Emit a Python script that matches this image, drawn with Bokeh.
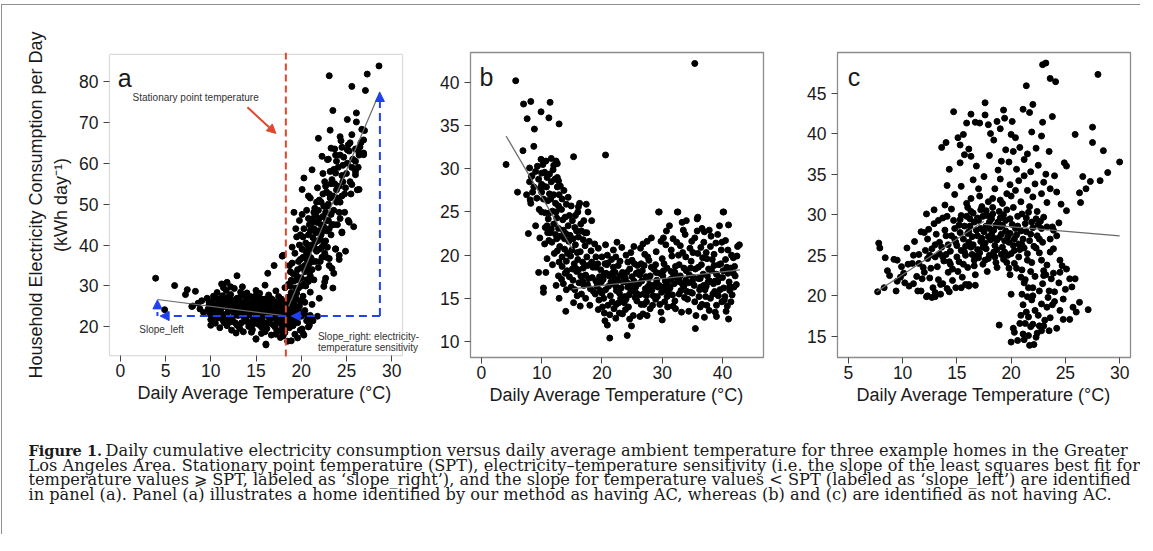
from bokeh.plotting import figure
from bokeh.layouts import column, row
from bokeh.models import Span, Arrow, NormalHead, Label, LinearAxis, FixedTicker, Range1d, BoxAnnotation
from bokeh.embed import file_html
from bokeh.resources import INLINE

SANS = "Liberation Sans"
SERIF = "DejaVu Serif"

# ---------------- data ----------------
pts_a = [
    (3.9,31.9),(4.9,24.2),(6.0,30.1),(7.4,29.1),(7.2,27.9),(8.3,28.7),(8.0,25.1),
    (7.9,25.0),(8.6,25.8),(8.8,24.4),(9.2,23.5),(9.0,26.4),
    (9.6,27.0),(9.8,25.3),(9.9,23.2),(10.0,21.8),(10.1,26.2),(9.7,24.3),(10.2,22.6),(10.3,27.5),(10.4,24.8),(10.5,20.9),(10.6,23.5),
    (10.7,28.4),(10.8,25.6),(10.9,22.2),(11.0,26.8),(11.0,19.8),(11.1,24.1),(11.2,30.5),(11.3,27.6),(11.4,21.4),(11.5,25.0),(11.6,23.0),(11.7,28.9),(11.8,20.3),(11.9,26.3),(12.0,24.4),
    (12.1,22.1),(12.2,27.9),(12.3,19.2),(12.4,25.5),(12.5,23.7),(12.6,29.4),(12.7,21.0),(12.8,26.6),(12.9,24.9),(12.9,32.5),(13.0,22.8),(13.1,20.2),(13.2,27.2),(13.3,25.2),(13.4,23.4),(13.5,29.8),(13.6,18.8),(13.7,26.0),(13.8,21.8),(13.9,24.3),(14.0,28.3),
    (14.1,22.9),(14.2,20.1),(14.3,25.7),(14.4,27.4),(14.5,23.9),(14.6,19.3),(14.7,26.4),(14.8,21.5),(14.9,24.6),(15.0,17.1),(15.0,28.9),(15.1,22.4),(15.2,25.3),(15.3,20.6),(15.4,27.0),(15.5,23.6),(15.6,18.4),(15.7,26.2),(15.8,21.2),(15.9,24.0),
    (16.0,30.2),(16.1,15.8),(16.1,22.9),(16.2,19.6),(16.3,25.8),(16.4,27.8),(16.5,21.7),(16.6,23.8),(16.7,18.0),(16.8,26.7),(16.9,20.5),(17.0,24.6),(17.0,35.0),(17.1,22.3),(17.2,28.8),(17.3,19.1),(17.4,25.4),(17.5,21.0),(17.6,23.3),(17.7,17.4),(17.8,26.8),(17.9,20.0),(17.9,37.3),
    (18.0,24.2),(18.1,22.0),(18.2,18.6),(18.2,29.6),(18.3,25.9),(18.4,21.3),(18.5,23.4),(18.5,16.5),(18.6,27.3),(18.7,19.8),(18.8,24.6),(18.9,16.6),(18.9,31.4),(19.0,22.4),(19.1,20.3),(19.2,26.0),(19.3,18.2),(19.4,23.6),(19.5,28.3),(19.6,21.0),(19.8,25.1),(19.9,19.2),(20.0,22.6),(20.2,18.4),(20.4,24.0),(20.6,21.5),(20.8,20.0),(21.0,22.8),(21.3,21.5),
    (10.3,23.9),(10.9,24.7),(11.3,22.9),(11.9,23.6),(12.4,21.6),(12.6,24.2),(13.1,24.0),(13.6,22.6),(13.9,26.9),(14.2,24.1),(14.7,22.2),(15.1,26.5),(15.4,24.8),(15.8,22.7),(16.2,24.4),(16.6,26.1),(16.9,23.1),(17.3,24.0),(17.6,25.8),(17.9,22.6),(18.2,23.8),(18.4,26.4),(18.7,22.5),(18.9,25.2),(19.1,23.3),
    (11.6,25.9),(12.1,26.0),(12.9,27.0),(13.4,21.0),(14.4,21.0),(15.0,23.0),(15.6,20.0),(16.4,21.0),(17.1,20.0),(17.8,19.0),(18.5,20.5),(16.0,26.8),(14.9,27.5),(13.3,28.5),(12.2,29.8),(11.4,29.6),(11.3,30.3),(11.8,30.9),(16.3,33.1),(18.0,37.5),
    (20.1,19.5),(20.3,18.0),(19.6,17.3),(20.9,20.4),(21.8,22.6),(21.2,21.8),(19.2,21.8),(16.1,15.6),(15.0,17.0),
    (9.8,26.1),(10.1,24.6),(10.4,22.4),(10.7,26.9),(10.9,23.1),(11.2,25.4),(11.4,27.2),(11.6,22.2),(11.9,24.9),(12.1,21.2),(12.3,26.6),(12.5,24.9),(12.7,22.9),(12.9,20.4),(13.1,26.1),(13.3,23.0),(13.5,24.7),(13.7,27.9),(13.9,22.0),(14.1,25.2),(14.3,23.4),(14.5,26.0),(14.7,20.7),(14.9,23.3),(15.1,24.5),(15.3,21.8),(15.5,26.9),(15.7,22.9),(15.9,25.6),(16.1,20.7),(16.3,23.7),(16.5,25.1),(16.7,22.1),(16.9,24.3),(17.1,26.1),(17.3,21.7),(17.5,24.0),(17.7,22.4),(17.9,25.0),(18.1,20.9),(18.3,24.5),(18.5,22.1),(18.7,26.0),(18.9,23.7),(19.1,21.5),(19.3,25.0),(19.5,22.3),(19.7,24.0),
    (10.5,25.4),(11.0,23.0),(11.5,21.0),(12.0,25.8),(12.6,23.0),(13.0,25.5),(13.6,23.8),(14.0,21.3),(14.6,24.9),(15.2,22.9),(15.8,24.3),(16.4,22.6),(17.0,23.4),(17.6,21.3),(18.2,25.2),(18.8,21.2),(13.2,19.6),(14.5,18.7),(16.0,18.8),(17.2,18.2),(18.0,17.8),(12.0,27.4),(14.8,25.9),(16.6,27.0),(19.0,27.6),(20.2,23.3),(20.7,22.6),(19.9,26.4),(10.0,20.4),(12.8,18.5),(15.4,28.2),(17.5,27.4),
    (18.6,30.4),(18.8,33.5),(18.9,28.4),(19.0,35.6),(19.2,31.2),(19.3,38.0),(19.4,27.0),(19.5,42.0),(19.6,34.0),(19.7,29.5),(19.8,46.0),(19.9,36.5),
    (20.0,32.0),(20.1,39.0),(20.2,27.5),(20.3,44.0),(20.4,35.0),(20.5,30.0),(20.6,48.5),(20.7,37.8),(20.8,42.5),(20.9,33.5),(21.0,28.5),(21.0,51.5),(21.1,40.0),(21.2,45.5),(21.3,36.0),(21.4,31.5),(21.5,49.0),(21.6,43.0),(21.7,38.5),(21.8,54.0),(21.9,34.5),(22.0,46.5),(22.0,27.0),(21.2,25.5),(20.4,26.0),
    (22.1,41.5),(22.2,50.5),(22.3,37.0),(22.4,57.5),(22.5,44.5),(22.6,31.0),(22.7,48.0),(22.8,53.0),(22.9,39.5),(23.0,61.0),(23.0,46.0),(23.1,35.0),(23.2,51.5),(23.3,42.5),(23.4,56.0),(23.5,29.5),(23.6,48.5),(23.7,63.5),(23.8,39.0),(23.9,53.5),
    (24.0,45.0),(24.1,59.0),(24.2,36.5),(24.3,50.5),(24.4,65.5),(24.5,43.0),(24.6,55.5),(24.7,61.5),(24.8,48.0),(24.9,38.5),(25.0,57.5),(25.2,46.0),(25.3,63.0),(25.5,52.5),(25.6,67.0),(25.8,44.5),(26.0,58.0),(26.2,53.5),(26.4,62.0),(26.6,65.0),(26.9,62.5),(27.0,68.0),
    (20.5,40.5),(20.9,45.0),(21.3,41.8),(21.6,47.5),(21.9,43.5),(22.2,45.0),(22.5,40.5),(22.8,43.5),(21.1,36.8),(20.7,34.5),(20.2,37.0),(21.7,50.5),(22.4,52.5),(22.9,49.5),(23.3,55.0),(23.6,58.5),(23.9,60.5),(24.3,62.0),(22.0,39.0),(21.4,44.0),(22.6,38.0),(23.1,44.0),(20.0,30.0),(19.5,32.5),(20.6,31.5),
    (18.8,30.0),(19.1,33.0),(19.4,29.5),(19.7,36.0),(20.0,34.5),(20.3,30.5),(20.6,36.5),(20.9,39.0),(21.2,34.0),(21.5,40.5),(21.8,41.0),(22.1,36.0),(22.4,43.5),(22.7,41.0),(23.0,50.0),(23.3,47.5),(23.6,45.0),(23.9,50.5),(24.2,48.0),(24.5,57.0),(24.8,52.5),(25.1,60.0),(25.4,55.5),(25.7,61.0),(26.0,63.5),(26.3,59.0),
    (20.2,42.0),(20.8,46.5),(21.4,48.0),(22.0,51.0),(22.6,55.5),(23.2,58.0),(21.0,32.5),(21.6,36.0),(22.3,39.5),(21.0,43.5),(20.5,38.5),(22.8,46.0),(19.8,40.0),(23.5,52.0),
    (19.0,39.5),(19.4,44.0),(19.7,31.5),(20.1,47.5),(20.4,33.5),(20.7,40.0),(21.0,37.0),(21.3,46.5),(21.6,39.0),(21.9,48.5),(22.2,42.5),(22.5,49.5),(22.8,37.0),(23.1,52.5),(23.4,45.0),(23.7,55.0),(24.0,51.5),(24.3,46.5),(24.6,59.5),(24.9,54.0),(25.2,64.5),(25.6,59.0),(26.0,60.5),(26.5,64.0),(20.9,35.5),(21.8,45.5),(22.4,47.0),(23.8,62.0),(18.7,35.0),(19.9,42.5),
    (23.1,81.4),(25.6,78.8),(27.3,81.8),(28.6,83.8),(27.1,77.8),(23.5,72.9),(25.1,70.7),(26.1,72.3),(26.1,70.1),(23.2,68.1),(26.7,68.3),(24.3,66.5),(21.9,66.1),(26.9,65.7),(25.4,65.0),(23.3,63.7),(24.5,63.9),(25.1,63.3),(26.4,62.5),(26.9,62.1),(22.3,61.7),(22.9,60.9),(21.2,58.4),(26.0,57.2),(23.8,57.6),(25.6,54.8),(26.4,53.6),(20.3,56.4),(24.5,52.0),(22.7,54.4),(24.2,54.4),(20.1,53.6),(20.8,52.0),(19.2,48.0),(25.3,45.6),(24.5,43.2),(23.8,39.1),(24.2,37.5),(23.1,36.7),(23.4,34.3),(22.7,31.9),(23.6,33.1),(22.5,29.9),(20.8,31.1),
]
temp_a = [p[0] for p in pts_a]
kwh_a = [p[1] for p in pts_a]

pts_b = [
    (5.7,40.2),(7.0,37.5),(8.2,37.8),(11.4,37.7),(7.6,35.8),(9.9,36.6),(11.2,35.9),(12.9,35.2),(8.8,34.6),(6.9,32.1),(8.7,32.6),(4.1,30.5),(15.3,31.4),(20.6,31.6),(6.0,27.3),
    (8.0,30.1),(8.4,29.2),(9.9,31.1),(10.2,30.5),(12.4,30.9),(12.6,30.6),(10.0,29.5),(10.5,29.6),(11.3,29.4),(12.6,29.0),(12.8,28.6),(13.1,28.0),(9.5,28.8),(10.0,28.2),(8.3,29.1),(8.7,27.9),(8.0,28.5),(7.5,27.0),(8.2,26.0),(8.1,26.4),
    (10.0,27.3),(10.3,26.5),(11.3,27.1),(11.8,26.9),(12.6,27.9),(13.7,27.5),(13.4,26.5),(14.1,25.9),(14.9,25.7),(16.1,25.6),(17.4,25.9),(17.7,25.0),(16.0,25.0),(12.4,25.0),(11.8,25.1),(11.3,24.9),(10.6,24.9),(10.0,25.0),(9.0,23.4),(7.8,22.5),
    (10.9,23.4),(11.6,23.0),(11.4,22.6),(10.6,23.2),(12.8,23.1),(13.6,22.9),(14.4,23.4),(15.5,23.2),(15.8,22.8),(16.1,22.1),(18.3,24.0),(17.0,24.0),(16.3,26.0),
    (10.5,21.3),(11.2,21.7),(11.7,21.5),(12.5,21.9),(13.0,21.0),(13.8,20.7),(14.5,21.6),(15.0,20.6),(15.6,21.2),(16.4,20.4),(16.9,21.8),(17.5,22.6),(10.9,19.6),(12.1,20.2),(13.4,19.8),(14.1,19.3),(14.8,19.9),(15.4,19.0),(16.0,19.5),(16.8,19.2),(17.5,19.8),(18.2,20.5),(18.8,21.3),(19.4,20.8),(20.0,19.8),
    (9.5,18.0),(10.7,18.0),(10.3,16.2),(10.3,15.7),(12.8,17.6),(13.3,17.2),(14.2,18.2),(14.6,17.5),(13.6,16.7),(12.9,15.0),(14.1,16.0),(15.2,17.1),(15.8,18.1),(16.5,17.6),(15.3,14.5),(16.4,14.1),(17.0,16.5),(17.8,17.3),(18.5,18.6),(19.0,17.0),(14.0,13.5),(15.9,15.3),(17.3,15.0),(18.0,14.2),(18.6,15.8),
    (8.5,27.3),(9.2,26.6),(9.6,25.3),(10.3,28.0),(10.8,27.9),(11.0,26.3),(11.6,28.5),(12.0,27.0),(12.3,26.0),(12.9,27.0),(13.3,25.3),(13.9,24.4),(14.6,24.6),(15.1,24.0),(11.1,24.2),(12.0,23.6),(12.3,22.4),(13.1,22.2),(13.8,21.9),(14.7,22.3),(15.2,21.9),(16.6,22.8),(17.2,21.1),(17.9,21.6),
    (12.6,20.5),(13.4,18.7),(14.3,20.2),(15.6,18.5),(16.2,16.8),(16.9,18.5),(17.6,18.8),(18.4,17.4),(11.8,18.9),(12.4,16.5),(14.9,16.3),(16.6,15.5),(10.9,29.0),(12.0,30.4),(9.0,29.7),(11.6,31.2),
    (9.3,30.3),(10.7,30.9),(11.9,29.9),(12.2,28.8),(9.8,27.8),(11.5,26.5),(12.8,25.7),(13.5,24.1),(14.4,26.7),(15.6,24.6),(16.5,23.6),(17.2,22.6),(15.9,20.3),(14.0,22.5),(12.9,19.2),(13.9,17.9),(15.1,18.4),(16.1,18.3),(17.3,17.7),(11.0,22.6),(9.7,22.0),(12.5,24.3),
    (19.2,16.4),(19.5,14.8),(19.8,18.3),(20.0,15.6),(20.2,17.2),(20.4,13.3),(20.6,16.0),(20.8,18.9),(21.0,14.2),(21.2,17.6),(20.5,12.4),(21.3,10.4),(20.9,11.9),(24.2,10.7),
    (21.4,15.3),(21.6,19.5),(21.8,16.7),(22.0,13.8),(22.2,18.0),(22.4,15.9),(22.6,17.0),(22.8,14.5),(23.0,19.3),(23.2,16.2),(22.5,21.5),(21.9,20.6),(22.3,12.7),(23.4,13.2),(23.6,17.8),
    (23.8,15.2),(24.0,20.0),(24.2,16.8),(24.4,14.0),(24.6,18.4),(24.8,15.8),(25.0,17.5),(25.2,13.0),(25.4,19.0),(25.6,16.3),(25.8,14.7),(24.9,11.8),(25.3,21.0),(26.0,18.0),
    (26.2,15.4),(26.4,20.8),(26.6,17.0),(26.8,13.2),(27.0,18.8),(27.2,16.1),(27.4,14.6),(27.6,19.8),(27.8,15.9),(28.0,17.6),(28.2,22.0),(28.4,14.2),(28.6,18.4),(28.8,16.6),(29.0,20.4),(27.5,21.6),
    (29.2,15.2),(29.4,25.0),(29.6,17.9),(29.8,13.4),(30.0,19.6),(30.2,16.3),(30.4,14.6),(30.6,21.2),(30.8,18.5),(31.0,15.8),(31.2,23.4),(31.4,17.2),(31.6,19.9),(31.8,14.1),(32.0,16.7),(30.0,12.5),(30.7,22.8),
    (32.2,18.7),(32.4,21.5),(32.6,25.0),(32.8,15.5),(33.0,17.6),(33.2,13.4),(33.4,20.3),(33.6,16.4),(33.8,22.4),(34.0,18.2),(34.2,14.9),(34.4,16.8),(34.6,20.8),(34.8,19.3),(35.0,15.6),(33.3,23.8),
    (35.2,17.4),(35.4,22.0),(35.5,11.5),(35.6,13.0),(35.8,24.2),(36.0,18.6),(36.2,16.0),(36.4,20.9),(36.6,14.3),(36.8,17.8),(37.0,22.7),(37.2,15.2),(37.4,19.6),(37.6,16.9),(37.8,13.6),(38.0,21.0),(35.4,42.2),
    (38.2,18.2),(38.4,15.5),(38.6,20.1),(38.8,17.0),(39.0,14.2),(39.2,22.4),(39.4,18.9),(39.6,16.0),(39.8,20.6),(40.0,17.4),(40.1,25.0),(40.3,14.8),(40.5,21.7),(40.7,18.6),(41.0,12.6),(41.2,16.4),(41.5,20.0),(41.8,19.7),(42.1,17.6),(42.5,21.0),(42.8,21.2),(41.0,23.5),(39.0,12.9),(37.0,12.8),
    (19.6,17.5),(20.3,15.0),(21.1,16.4),(21.7,14.6),(22.1,17.3),(22.9,15.6),(23.5,16.9),(24.1,18.0),(24.7,16.6),(25.5,15.1),(26.1,16.7),(26.9,15.5),(27.7,17.3),(28.3,16.0),(29.1,17.1),(29.9,15.7),(30.5,17.0),(31.3,16.2),(32.1,18.0),(32.9,16.9),(33.7,15.1),(34.5,17.7),(35.3,16.5),(36.1,15.2),(36.9,16.5),(37.7,18.4),(38.5,16.7),(39.3,15.3),(40.2,16.2),(40.9,17.9),(41.6,15.4),
    (24.3,19.2),(26.5,19.0),(28.9,18.9),(31.5,20.6),(33.9,19.8),(36.5,18.9),(39.7,19.0),(22.7,18.8),(20.9,20.0),(27.1,20.1),(34.9,21.6),(38.9,21.4),(42.0,18.7),(30.9,14.0),(28.0,13.8),(36.3,14.0),(40.6,13.5),(23.9,13.7),(26.3,12.9),
    (29.5,25.0),(32.5,25.0),(40.2,25.0),(35.9,24.4),(35.8,22.8),(36.6,23.1),(37.8,22.9),
    (18.9,15.5),(19.9,16.9),(20.7,17.9),(21.5,16.9),(22.3,16.4),(23.1,15.0),(23.9,17.3),(24.5,15.4),(25.1,16.0),(25.7,17.9),(26.5,14.3),(27.3,17.5),(27.9,16.6),(28.5,15.3),(29.3,16.3),(30.1,17.6),(30.9,16.6),(31.7,15.4),(32.5,17.3),(33.1,15.9),(33.9,17.1),(34.7,15.7),(35.5,18.4),(36.3,17.3),(37.1,16.0),(37.9,17.0),(38.7,15.8),(39.5,17.4),(40.4,15.2),(41.1,16.9),(41.9,16.3),
    (19.4,13.7),(21.3,13.1),(22.9,13.3),(24.6,12.6),(27.5,13.0),(29.6,14.3),(32.2,13.8),(34.4,13.5),(37.4,14.2),(38.8,13.4),(40.8,14.1),(20.5,19.0),(22.3,19.8),(24.8,20.3),(27.8,19.4),(30.3,19.0),(32.7,20.0),(35.1,20.3),(37.3,20.3),(39.9,21.5),(41.3,18.5),(42.4,19.9),(30.2,22.0),(33.5,22.9),(36.9,21.5),(39.5,23.4),(34.0,24.0),(31.8,21.9),(38.3,19.5),(25.9,18.8),(23.4,18.0),
    (18.3,19.2),(19.0,18.6),(19.7,15.9),(20.4,17.8),(21.0,19.1),(21.7,17.9),(22.4,14.3),(23.0,17.6),(23.7,14.5),(24.3,16.3),(25.0,19.4),(25.7,15.6),(26.3,17.7),(27.0,14.3),(27.6,16.3),(28.2,18.6),(28.9,14.9),(29.5,16.5),(30.2,18.2),(30.8,15.2),(31.5,18.1),(32.1,14.7),(32.8,18.9),(33.4,16.6),(34.1,15.8),(34.7,18.5),(35.4,14.6),(36.0,17.3),(36.7,19.7),(37.3,16.4),(38.0,15.0),(38.6,18.8),(39.2,16.9),(39.9,14.6),(40.5,19.5),(41.2,15.9),(41.8,17.9),(42.3,16.6),
    (19.0,19.8),(20.1,14.0),(21.9,18.6),(22.7,16.0),(24.0,14.9),(25.3,17.0),(26.7,18.2),(27.4,15.3),(29.0,18.0),(30.6,15.9),(31.9,17.6),(33.6,18.5),(35.0,17.0),(36.4,16.3),(37.5,17.6),(39.0,17.8),(40.1,18.2),(41.4,14.6),(20.6,21.2),(23.3,20.9),(26.8,21.3),(29.8,21.6),(33.0,21.1),(35.9,20.2),(38.1,22.2),(40.9,20.6),
    (17.6,16.6),(16.8,17.0),(18.1,16.1),(19.3,19.0),(15.5,16.0),
]
temp_b = [p[0] for p in pts_b]
kwh_b = [p[1] for p in pts_b]

pts_c = [
    (22.9,48.5),(23.2,48.7),(28.0,47.3),(23.6,46.8),(24.1,46.4),(21.4,45.9),(14.7,42.7),(16.3,42.4),(17.6,43.8),(17.6,42.3),(19.3,42.9),(21.1,43.0),(22.0,43.6),(21.7,42.6),(23.8,42.1),
    (15.9,41.3),(16.7,41.4),(17.1,41.3),(17.9,41.1),(18.7,41.5),(19.4,41.9),(20.1,41.5),(22.9,41.4),(27.5,40.8),(25.9,39.9),(15.1,39.5),(15.6,39.9),(22.8,39.7),(20.4,39.5),(18.4,39.2),
    (13.6,38.3),(14.0,38.9),(15.3,38.6),(16.1,38.1),(15.7,37.4),(16.3,37.2),(15.3,36.4),(27.5,38.9),(28.5,37.9),(25.1,36.0),(24.9,36.4),(30.0,36.5),(28.9,35.2),(26.6,34.7),(27.3,34.1),(28.2,34.2),(26.9,33.2),(26.3,32.7),(26.4,31.5),(25.1,30.5),(24.6,31.3),
    (19.5,38.0),(20.2,37.8),(20.8,38.3),(21.5,37.5),(22.3,38.2),(23.5,37.8),(19.8,36.5),(20.5,35.6),(21.2,36.8),(21.8,35.3),(22.5,36.1),(23.2,35.0),(24.0,34.8),(19.0,34.4),(19.9,33.7),(20.7,34.2),(21.5,33.0),(22.2,33.8),(22.8,32.6),(23.6,33.2),
    (18.3,32.0),(19.2,31.4),(20.0,32.3),(20.9,31.6),(21.7,31.0),(22.4,30.4),(23.3,31.5),(24.2,32.8),(18.8,35.5),(17.5,34.7),(17.0,33.2),(16.3,32.0),(14.8,32.5),(13.9,31.2),(12.9,30.6),(12.2,30.1),(14.3,35.6),(18.0,37.3),(16.8,36.0),(22.7,29.2),(23.8,28.5),(24.4,29.0),
    (7.8,26.5),(7.9,25.9),(8.4,24.7),(9.2,24.5),(9.5,24.4),(7.7,20.5),(8.3,21.0),(9.4,20.6),(8.6,23.1),(8.8,22.5),(9.8,22.3),(9.5,21.8),(9.9,23.6),
    (10.1,22.8),(10.4,25.9),(10.6,21.2),(10.9,24.0),(11.1,26.7),(11.3,22.4),(11.5,25.1),(11.7,20.6),(11.9,23.5),(12.0,27.8),(12.2,19.9),(12.3,24.6),
    (12.5,22.2),(12.7,25.8),(12.9,28.9),(13.0,20.4),(13.2,23.6),(13.4,26.6),(13.5,21.4),(13.7,29.6),(13.8,24.3),(14.0,27.4),(14.1,20.9),(14.2,22.9),(12.4,28.2),
    (14.4,25.5),(14.5,30.7),(14.6,23.3),(14.8,28.3),(14.9,21.0),(15.0,26.2),(15.2,24.2),(15.3,29.4),(15.5,22.3),(15.6,27.0),(15.8,25.0),(15.9,31.4),(16.0,23.5),(16.1,21.4),
    (16.2,28.6),(16.3,26.0),(16.5,30.2),(16.6,24.4),(16.7,22.6),(16.9,27.4),(17.0,29.3),(17.1,25.3),(17.3,31.0),(17.4,23.9),(17.5,27.9),(17.6,26.5),(17.8,29.9),(17.9,24.6),(18.0,28.3),
    (18.1,26.9),(18.3,30.1),(18.4,25.4),(18.6,28.7),(18.7,23.5),(18.9,27.2),(19.0,29.6),(19.2,26.0),(19.3,24.5),(19.5,28.0),(19.6,30.6),(19.8,26.6),(19.9,22.6),(20.0,25.2),(20.1,28.8),
    (20.3,24.0),(20.5,27.5),(20.6,29.8),(20.8,25.7),(21.0,23.2),(21.1,27.0),(21.3,28.9),(21.5,25.2),(21.7,26.8),(21.9,24.1),(22.0,28.4),(22.2,22.4),(22.4,27.4),(22.6,25.3),(21.6,30.3),
    (22.8,28.3),(23.0,23.1),(23.3,28.5),(23.6,25.4),(23.9,28.1),(24.2,27.4),(24.5,24.4),(23.2,22.6),(22.0,21.0),(21.3,22.0),
    (15.4,25.6),(16.0,27.7),(16.4,25.1),(16.8,28.1),(17.2,26.7),(17.7,25.8),(18.2,27.6),(18.5,26.2),(18.8,29.1),(19.1,27.6),(19.4,25.4),(19.7,27.3),(17.0,24.7),(16.2,29.5),(17.4,29.8),(18.0,25.0),(15.7,28.6),(19.0,28.5),(20.3,27.0),(20.7,26.4),
    (14.0,25.1),(13.0,24.8),(12.0,22.9),(11.5,24.0),(12.8,21.0),(11.0,21.5),(14.5,27.4),(15.1,23.0),(13.6,26.0),(12.1,25.6),
    (12.3,20.0),(13.5,20.2),(15.8,21.4),(16.1,21.2),(16.7,21.3),(14.3,20.5),(13.0,19.9),(23.9,25.8),(23.6,27.0),
    (12.6,23.4),(13.1,27.6),(13.3,22.0),(13.7,24.8),(14.2,26.3),(14.4,23.9),(14.7,29.3),(15.0,24.8),(15.3,27.8),(15.6,23.9),(15.9,29.8),(16.1,26.6),(16.4,27.3),(16.6,29.1),(16.9,25.7),(17.2,28.3),(17.4,26.0),(17.7,30.5),(17.9,27.3),(18.2,29.5),(18.4,27.1),(18.7,25.7),(18.9,30.4),(19.2,28.7),(19.4,26.8),(19.7,25.0),(19.9,29.5),(20.2,26.2),(20.4,28.3),(20.7,24.8),(20.9,28.0),(21.2,25.9),(21.4,29.6),(21.8,27.6),(22.1,26.1),(22.3,29.5),(22.6,27.0),
    (16.0,30.9),(17.1,32.3),(18.5,33.2),(19.6,32.6),(15.4,33.5),(14.1,33.6),(13.3,29.3),(11.7,27.9),(11.0,25.0),(10.5,23.9),(10.2,21.6),(11.4,20.6),(12.7,19.8),(13.7,21.5),(14.6,21.9),(15.4,21.0),(16.6,23.7),(17.8,23.0),(18.6,24.1),(19.8,23.4),(20.9,22.3),(21.8,23.0),(22.8,24.4),
    (20.2,30.9),(21.0,30.1),(19.0,31.8),(17.9,31.6),(16.5,34.3),(19.1,36.6),(20.4,33.0),(22.0,32.2),(21.2,34.8),(23.0,34.0),(20.0,39.9),(21.9,40.2),(18.1,40.0),(19.0,40.6),
    (13.4,25.2),(13.9,28.1),(14.3,24.2),(14.9,26.6),(15.2,28.7),(15.7,25.4),(16.1,27.9),(16.5,26.3),(16.9,29.6),(17.3,27.1),(17.6,24.4),(18.0,29.1),(18.4,28.1),(18.7,26.9),(19.1,25.1),(19.5,29.3),(19.9,27.7),(20.3,25.6),(20.6,28.6),(21.0,26.3),(21.4,27.9),(14.8,27.0),(15.4,29.9),(16.3,30.4),(17.2,30.6),(18.3,30.9),(19.3,30.0),(16.7,24.9),(17.7,28.6),(18.5,24.8),(19.6,24.1),(15.8,26.1),(14.1,29.8),(13.0,26.3),(12.3,27.0),(11.8,22.1),(12.5,25.0),(20.5,23.4),(21.5,24.4),(22.3,25.9),(22.9,26.6),(22.5,28.8),(23.0,29.7),(21.9,29.1),
    (20.0,14.3),(20.6,14.5),(21.7,13.9),(20.3,15.5),(21.1,15.3),(21.6,15.1),(22.3,14.9),(22.8,15.7),(18.9,16.4),(22.0,16.5),(23.0,16.3),(23.6,17.3),(23.3,18.6),(24.5,18.2),(25.4,17.1),(24.8,17.1),(25.7,18.6),(26.3,19.2),(27.1,18.3),
    (25.9,22.1),(25.4,22.1),(25.1,23.3),(24.7,23.7),(24.5,22.9),(23.7,22.1),(23.0,22.5),(21.0,20.2),(20.0,20.2),
    (21.1,18.9),(21.4,18.0),(21.6,17.4),(21.9,19.5),(22.2,18.2),(22.5,17.6),(22.8,19.0),(23.1,17.0),(23.4,19.8),(22.6,20.6),(21.8,16.2),(22.4,15.4),(23.8,18.9),(24.2,16.0),(24.8,19.6),(23.5,20.6),(22.0,20.0),(21.3,16.6),(20.8,16.6),(21.5,19.9),(22.9,21.5),(24.0,20.5),(25.0,20.8),(21.2,21.6),(23.3,23.8),
    (20.2,16.0),(20.9,17.6),(21.2,14.6),(22.1,14.0),(22.6,16.3),(23.5,15.7),(24.0,19.3),(24.4,21.6),(25.6,21.1),(26.0,18.0),(23.9,22.8),(21.6,21.0),
]
temp_c = [p[0] for p in pts_c]
kwh_c = [p[1] for p in pts_c]

xticks_a = [0, 5, 10, 15, 20, 25, 30]
yticks_a = [20, 30, 40, 50, 60, 70, 80]
xticks_b = [0, 10, 20, 30, 40]
yticks_b = [10, 15, 20, 25, 30, 35, 40]
xticks_c = [5, 10, 15, 20, 25, 30]
yticks_c = [15, 20, 25, 30, 35, 40, 45]

# axis limits (data units) of each panel box
xlim_a, ylim_a = (-1.2, 31.2), (13.0, 86.6)
xlim_b, ylim_b = (-1.8, 46.8), (8.15, 43.47)
xlim_c, ylim_c = (4.0, 31.0), (12.4, 50.0)

spt_a = 18.3
fit_a_left_x, fit_a_left_y = [4.1, 18.3], [26.7, 22.7]
fit_a_right_x, fit_a_right_y = [18.6, 28.7], [25.0, 77.5]
fit_b_left_x, fit_b_left_y = [4.1, 15.1], [33.8, 20.7]
fit_b_right_x, fit_b_right_y = [15.1, 42.9], [16.1, 18.3]
fit_c_left_x, fit_c_left_y = [7.6, 17.5], [20.5, 29.2]
fit_c_right_x, fit_c_right_y = [17.5, 30.0], [28.8, 27.4]

base_a = 22.65          # level of the horizontal blue construction line
slope_right_top = 77.3
slope_left_top = 26.6
spt_arrow_x, spt_arrow_y = [14.05, 17.2], [73.7, 67.3]

RED = "#e0472c"
BLUE = "#2140f0"
GRAY_LINE = "#6a6a6a"
FRAME = "#8c8c8c"
TXT = "#1a1a1a"
DOT = 6

H = 407
BOX_W, BOX_H = 293, 305


def style_axes(p, tick_in, tick_out, ystand, xstand):
    p.xgrid.visible = False
    p.ygrid.visible = False
    p.background_fill_color = "white"
    p.border_fill_color = "white"
    for ax in (p.xaxis[0], p.yaxis[0]):
        ax.axis_line_color = None
        ax.major_tick_out = tick_out
        ax.major_tick_in = tick_in
        ax.major_tick_line_color = "#444444"
        ax.minor_tick_line_color = None
        ax.major_label_text_font = SANS
        ax.major_label_text_font_size = "17.5px"
        ax.major_label_text_color = TXT
        ax.axis_label_text_font = SANS
        ax.axis_label_text_font_size = "18px"
        ax.axis_label_text_font_style = "normal"
        ax.axis_label_text_color = TXT
    p.xaxis.major_label_standoff = xstand
    p.yaxis.major_label_standoff = ystand
    p.xaxis.axis_label = "Daily Average Temperature (\u00b0C)"
    p.xaxis.axis_label_standoff = 3


def panel(width, bl, br, xr, yr, xt, yt):
    p = figure(width=width, height=H, x_range=Range1d(*xr), y_range=Range1d(*yr),
               output_backend="svg", toolbar_location=None,
               min_border_left=bl, min_border_right=br,
               min_border_top=47, min_border_bottom=H - 47 - BOX_H)
    p.outline_line_color = FRAME
    p.outline_line_width = 1.3
    p.xaxis.ticker = FixedTicker(ticks=xt)
    p.yaxis.ticker = FixedTicker(ticks=yt)
    style_axes(p, 0, 6, 5, 2)
    return p


def letter(p, x, y, t):
    p.add_layout(Label(x=x, y=y, text=t, text_font=SANS, text_font_size="25px",
                       text_color=TXT, text_baseline="alphabetic"))


# ---------------- panel a (frame widened so the notes are not clipped) ----------------
sx = BOX_W / (xlim_a[1] - xlim_a[0])
sy = BOX_H / (ylim_a[1] - ylim_a[0])
pa = figure(width=430, height=H,
            x_range=Range1d(xlim_a[0] - 2 / sx, xlim_a[1] + 20 / sx),
            y_range=Range1d(ylim_a[0] - 2 / sy, ylim_a[1] + 2 / sy),
            output_backend="svg", toolbar_location=None,
            min_border_left=105, min_border_right=10, min_border_top=45,
            min_border_bottom=H - 45 - (BOX_H + 4))
pa.outline_line_color = None
pa.xaxis.ticker = FixedTicker(ticks=xticks_a)
pa.yaxis.ticker = FixedTicker(ticks=yticks_a)
style_axes(pa, 2, 4, 5, 2)
pa.add_layout(BoxAnnotation(left=xlim_a[0], right=xlim_a[1], bottom=ylim_a[0], top=ylim_a[1],
                            fill_color=None, fill_alpha=0, line_color=FRAME, line_width=1.3))
pa.yaxis.axis_label = "(kWh day\u207b\u00b9)"
pa.yaxis.axis_label_standoff = 5
ax2 = LinearAxis(ticker=FixedTicker(ticks=[]), axis_label="Household Electricity Consumption per Day",
                 axis_line_color=None, major_tick_line_color=None, minor_tick_line_color=None,
                 major_tick_out=0, major_tick_in=0, major_label_text_font_size="0px",
                 axis_label_text_font=SANS, axis_label_text_font_size="18px",
                 axis_label_text_font_style="normal", axis_label_text_color=TXT,
                 axis_label_standoff=3)
pa.add_layout(ax2, "left")
pa.scatter(temp_a, kwh_a, size=DOT, color="black")
pa.line(fit_a_left_x, fit_a_left_y, line_color=GRAY_LINE, line_width=1.2)
pa.line(fit_a_right_x, fit_a_right_y, line_color=GRAY_LINE, line_width=1.2)
pa.add_layout(Span(location=spt_a, dimension="height", line_color=RED, line_width=2, line_dash="7 4"))


def bhead():
    return NormalHead(size=9, fill_color=BLUE, line_color=BLUE)


x_right = fit_a_right_x[1]
x_left = fit_a_left_x[0]
pa.add_layout(Arrow(end=bhead(), x_start=x_right, y_start=base_a, x_end=x_right, y_end=slope_right_top,
                    line_color=BLUE, line_width=2, line_dash="8 5"))
pa.add_layout(Arrow(end=bhead(), x_start=x_right, y_start=base_a, x_end=18.9, y_end=base_a,
                    line_color=BLUE, line_width=2, line_dash="8 5"))
pa.add_layout(Arrow(end=bhead(), x_start=spt_a, y_start=base_a, x_end=4.4, y_end=base_a,
                    line_color=BLUE, line_width=2, line_dash="8 5"))
pa.add_layout(Arrow(end=bhead(), x_start=x_left, y_start=base_a, x_end=x_left, y_end=slope_left_top,
                    line_color=BLUE, line_width=2, line_dash="4 3"))
pa.add_layout(Arrow(end=NormalHead(size=9, fill_color=RED, line_color=RED),
                    x_start=spt_arrow_x[0], y_start=spt_arrow_y[0], x_end=spt_arrow_x[1], y_end=spt_arrow_y[1],
                    line_color=RED, line_width=2))
note = dict(text_font=SANS, text_font_size="10px", text_color="#333333", text_baseline="middle")
pa.add_layout(Label(x=1.35, y=76.0, text="Stationary point temperature", **note))
pa.add_layout(Label(x=2.1, y=19.3, text="Slope_left", **note))
pa.add_layout(Label(x=21.85, y=17.6, text="Slope_right: electricity-", **note))
pa.add_layout(Label(x=21.85, y=15.0, text="temperature sensitivity", **note))
letter(pa, -0.3, 80.9, "a")

# ---------------- panel b ----------------
pb = panel(365, 38, 34, xlim_b, ylim_b, xticks_b, yticks_b)
pb.scatter(temp_b, kwh_b, size=DOT, color="black")
pb.line(fit_b_left_x, fit_b_left_y, line_color=GRAY_LINE, line_width=1.2)
pb.line(fit_b_right_x, fit_b_right_y, line_color=GRAY_LINE, line_width=1.2)
letter(pb, -0.3, 40.6, "b")

# ---------------- panel c ----------------
pc = panel(343, 40, 10, xlim_c, ylim_c, xticks_c, yticks_c)
pc.scatter(temp_c, kwh_c, size=DOT, color="black")
pc.line(fit_c_left_x, fit_c_left_y, line_color=GRAY_LINE, line_width=1.2)
pc.line(fit_c_right_x, fit_c_right_y, line_color=GRAY_LINE, line_width=1.2)
letter(pc, 4.95, 47.0, "c")

# ---------------- caption ----------------
cap_lines = [
    "Daily cumulative electricity consumption versus daily average ambient temperature for three example homes in the Greater",
    "Los Angeles Area. Stationary point temperature (SPT), electricity\u2013temperature sensitivity (i.e. the slope of the least squares best fit for",
    "temperature values \u2a7e SPT, labeled as \u2018slope_right\u2019), and the slope for temperature values < SPT (labeled as \u2018slope_left\u2019) are identified",
    "in panel (a). Panel (a) illustrates a home identified by our method as having AC, whereas (b) and (c) are identified as not having AC.",
]
CAP_H = 122
cap = figure(width=1138, height=CAP_H, x_range=Range1d(0, 1138), y_range=Range1d(CAP_H, 0),
             output_backend="svg", toolbar_location=None, x_axis_type=None, y_axis_type=None,
             min_border=0)
cap.outline_line_color = None
cap.xgrid.visible = False
cap.ygrid.visible = False
cstyle = dict(text_font=SERIF, text_color=TXT, text_baseline="alphabetic")
cap.add_layout(Label(x=26, y=37.7, text="Figure 1.", text_font_style="bold", text_font_size="14.5px", **cstyle))
cap.add_layout(Label(x=103, y=37.7, text=cap_lines[0], text_font_size="16.2px", **cstyle))
for i, t in enumerate(cap_lines[1:]):
    cap.add_layout(Label(x=26, y=37.7 + 14.8 * (i + 1), text=t, text_font_size="16.2px", **cstyle))

layout = column(row(pa, pb, pc), cap, margin=(4, 0, 0, 1),
                styles={"border-top": "1px solid #8f8f8f", "border-left": "1px solid #8f8f8f"})

open("out.html", "w").write(file_html(layout, INLINE))
